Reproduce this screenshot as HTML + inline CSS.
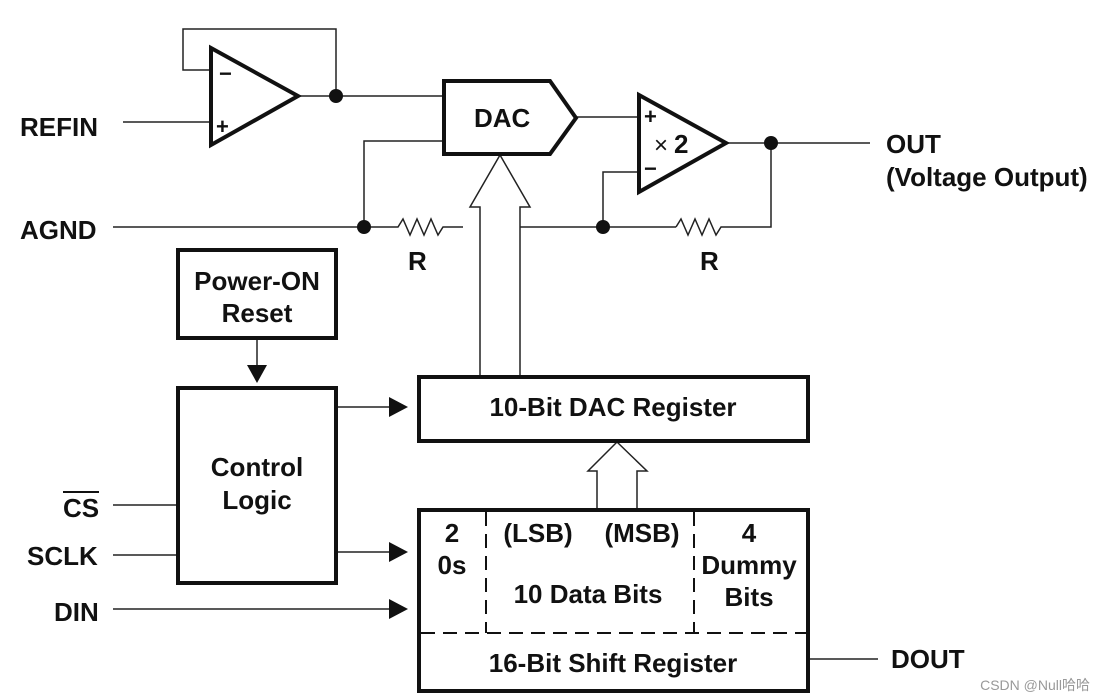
<!DOCTYPE html>
<html><head><meta charset="utf-8"><style>
html,body{margin:0;padding:0;background:#fff;}
svg{display:block;font-family:"Liberation Sans",Arial,sans-serif;font-weight:bold;}
</style></head><body>
<svg width="1105" height="700" viewBox="0 0 1105 700" xmlns="http://www.w3.org/2000/svg">
<g fill="none" stroke="#222" stroke-width="1.5">
 <polyline points="211,70 183,70 183,29 336,29 336,96"/>
 <line x1="298" y1="96" x2="444" y2="96"/>
 <line x1="123" y1="122" x2="211" y2="122"/>
 <polyline points="444,141 364,141 364,227"/>
 <line x1="113" y1="227" x2="392" y2="227"/>
 <polyline points="392,227 398,227 403,219 410,235 417,219 424,235 431,219 438,235 443,227 463,227"/>
 <line x1="520" y1="227" x2="676" y2="227"/>
 <polyline points="676,227 681,219 688,235 695,219 702,235 709,219 716,235 721,227 771,227 771,143"/>
 <line x1="576" y1="117" x2="639" y2="117"/>
 <polyline points="639,172 603,172 603,227"/>
 <line x1="726" y1="143" x2="870" y2="143"/>
 <line x1="257" y1="338" x2="257" y2="366"/>
 <line x1="336" y1="407" x2="395" y2="407"/>
 <line x1="113" y1="505" x2="178" y2="505"/>
 <line x1="113" y1="555" x2="178" y2="555"/>
 <line x1="336" y1="552" x2="395" y2="552"/>
 <line x1="113" y1="609" x2="395" y2="609"/>
 <line x1="808" y1="659" x2="878" y2="659"/>
 <polygon points="480,377 480,207 470,207 500,155 530,207 520,207 520,377" fill="#fff"/>
 <polygon points="597,510 597,471 588,471 617,442 647,471 637,471 637,510" fill="#fff"/>
</g>
<g fill="#111">
 <circle cx="336" cy="96" r="7"/>
 <circle cx="364" cy="227" r="7"/>
 <circle cx="603" cy="227" r="7"/>
 <circle cx="771" cy="143" r="7"/>
 <polygon points="247,365 267,365 257,383"/>
 <polygon points="389,397 389,417 408,407"/>
 <polygon points="389,542 389,562 408,552"/>
 <polygon points="389,599 389,619 408,609"/>
</g>
<g fill="none" stroke="#111" stroke-width="4">
 <polygon points="211,48 298,96 211,145"/>
 <polygon points="639,95 726,143 639,192"/>
 <polygon points="444,81 550,81 576,118 550,154 444,154"/>
 <rect x="178" y="250" width="158" height="88"/>
 <rect x="178" y="388" width="158" height="195"/>
 <rect x="419" y="377" width="389" height="64"/>
 <rect x="419" y="510" width="389" height="181"/>
</g>
<g fill="none" stroke="#111" stroke-width="2" stroke-dasharray="14,8">
 <line x1="421" y1="633" x2="806" y2="633"/>
 <line x1="486" y1="512" x2="486" y2="633"/>
 <line x1="694" y1="512" x2="694" y2="633"/>
</g>
<g fill="#111" font-size="26">
 <text x="20" y="136">REFIN</text>
 <text x="20" y="239">AGND</text>
 <text x="63" y="517">CS</text>
 <line x1="63" y1="492" x2="99" y2="492" stroke="#111" stroke-width="2"/>
 <text x="27" y="565">SCLK</text>
 <text x="54" y="621">DIN</text>
 <text x="886" y="153">OUT</text>
 <text x="886" y="186">(Voltage Output)</text>
 <text x="891" y="668">DOUT</text>
 <text x="408" y="270">R</text>
 <text x="700" y="270">R</text>
 <text x="474" y="127">DAC</text>
 <text x="219" y="81" font-size="22">−</text>
 <text x="216" y="134" font-size="22">+</text>
 <text x="644" y="124" font-size="22">+</text>
 <text x="644" y="176" font-size="22">−</text>
 <text x="654" y="153" font-weight="normal" font-size="24">×</text>
 <text x="674" y="153">2</text>
 <text x="257" y="290" text-anchor="middle">Power-ON</text>
 <text x="257" y="322" text-anchor="middle">Reset</text>
 <text x="257" y="476" text-anchor="middle">Control</text>
 <text x="257" y="509" text-anchor="middle">Logic</text>
 <text x="613" y="416" text-anchor="middle">10-Bit DAC Register</text>
 <text x="452" y="542" text-anchor="middle">2</text>
 <text x="452" y="574" text-anchor="middle">0s</text>
 <text x="538" y="542" text-anchor="middle">(LSB)</text>
 <text x="642" y="542" text-anchor="middle">(MSB)</text>
 <text x="588" y="603" text-anchor="middle">10 Data Bits</text>
 <text x="749" y="542" text-anchor="middle">4</text>
 <text x="749" y="574" text-anchor="middle">Dummy</text>
 <text x="749" y="606" text-anchor="middle">Bits</text>
 <text x="613" y="672" text-anchor="middle">16-Bit Shift Register</text>
 <text x="1090" y="690" text-anchor="end" font-size="14" font-weight="normal" fill="#999">CSDN @Null哈哈</text>
</g>
</svg>
</body></html>
